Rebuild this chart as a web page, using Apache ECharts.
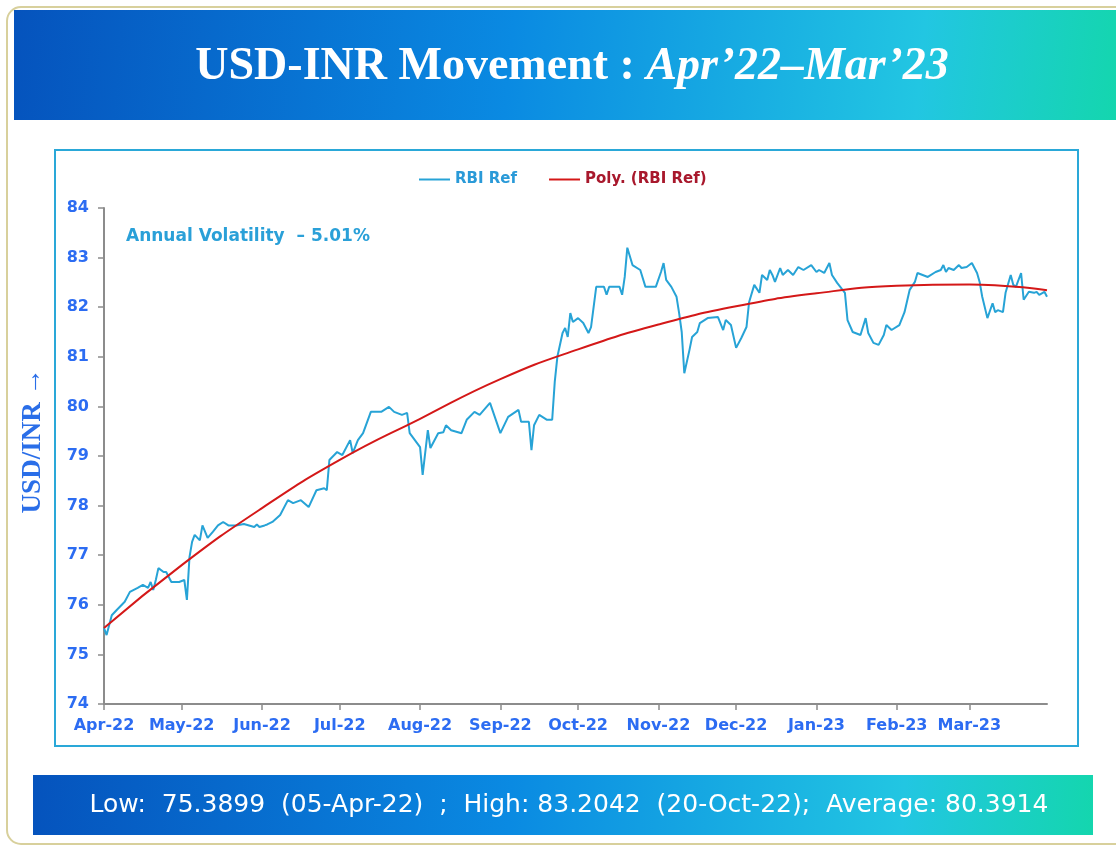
<!DOCTYPE html>
<html><head><meta charset="utf-8">
<script src="https://cdn.jsdelivr.net/npm/echarts@6/dist/echarts.min.js"></script>
<style>html,body{margin:0;padding:0;background:#fff}#c{width:1116px;height:848px}</style>
</head><body><div id="c"></div>
<script>
// ---- data ----
const dates = [
'2022-04-01','2022-04-02','2022-04-04','2022-04-06','2022-04-09','2022-04-11','2022-04-14','2022-04-16','2022-04-18','2022-04-19',
'2022-04-20','2022-04-21','2022-04-22','2022-04-24','2022-04-25','2022-04-27','2022-04-30','2022-05-02','2022-05-03','2022-05-04',
'2022-05-05','2022-05-06','2022-05-08','2022-05-09','2022-05-11','2022-05-13','2022-05-15','2022-05-17','2022-05-19','2022-05-22',
'2022-05-25','2022-05-27','2022-05-29','2022-05-30','2022-05-31','2022-06-02','2022-06-03','2022-06-05','2022-06-08','2022-06-11',
'2022-06-13','2022-06-16','2022-06-19','2022-06-22','2022-06-25','2022-06-26','2022-06-27','2022-06-30','2022-07-02','2022-07-05',
'2022-07-06','2022-07-08','2022-07-10','2022-07-13','2022-07-17','2022-07-20','2022-07-22','2022-07-25','2022-07-27','2022-07-28',
'2022-08-01','2022-08-02','2022-08-04','2022-08-05','2022-08-08','2022-08-10','2022-08-11','2022-08-13','2022-08-17','2022-08-19',
'2022-08-22','2022-08-24','2022-08-28','2022-09-01','2022-09-04','2022-09-08','2022-09-09','2022-09-12','2022-09-13','2022-09-14',
'2022-09-16','2022-09-19','2022-09-21','2022-09-22','2022-09-23','2022-09-25','2022-09-26','2022-09-27','2022-09-28','2022-09-29',
'2022-10-01','2022-10-03','2022-10-05','2022-10-06','2022-10-08','2022-10-11','2022-10-12','2022-10-13','2022-10-17','2022-10-18',
'2022-10-19','2022-10-20','2022-10-22','2022-10-25','2022-10-27','2022-10-31','2022-11-02','2022-11-03','2022-11-04','2022-11-06',
'2022-11-08','2022-11-09','2022-11-10','2022-11-11','2022-11-13','2022-11-14','2022-11-16','2022-11-17','2022-11-20','2022-11-24',
'2022-11-26','2022-11-27','2022-11-29','2022-12-01','2022-12-03','2022-12-05','2022-12-06','2022-12-08','2022-12-10','2022-12-11',
'2022-12-13','2022-12-14','2022-12-15','2022-12-16','2022-12-18','2022-12-19','2022-12-21','2022-12-23','2022-12-25','2022-12-27',
'2022-12-30','2023-01-01','2023-01-02','2023-01-04','2023-01-06','2023-01-07','2023-01-09','2023-01-12','2023-01-13','2023-01-15',
'2023-01-18','2023-01-20','2023-01-21','2023-01-23','2023-01-25','2023-01-27','2023-01-28','2023-01-30','2023-02-02','2023-02-04',
'2023-02-06','2023-02-08','2023-02-09','2023-02-11','2023-02-13','2023-02-16','2023-02-18','2023-02-19','2023-02-20','2023-02-21',
'2023-02-23','2023-02-25','2023-02-26','2023-02-28','2023-03-02','2023-03-04','2023-03-05','2023-03-06','2023-03-08','2023-03-10',
'2023-03-11','2023-03-12','2023-03-14','2023-03-15','2023-03-17','2023-03-18','2023-03-19','2023-03-21','2023-03-22','2023-03-24',
'2023-03-26','2023-03-27','2023-03-28','2023-03-30','2023-03-31'
];
const rbiRef = [
75.53,75.39,75.79,75.90,76.06,76.26,76.34,76.40,76.34,76.46,
76.30,76.50,76.74,76.66,76.66,76.46,76.46,76.50,76.10,76.96,
77.27,77.41,77.30,77.60,77.35,77.47,77.60,77.67,77.60,77.60,
77.63,77.60,77.57,77.62,77.57,77.60,77.62,77.67,77.81,78.11,
78.05,78.11,77.97,78.31,78.35,78.31,78.92,79.08,79.02,79.32,
79.06,79.32,79.46,79.89,79.89,79.99,79.89,79.83,79.87,79.46,
79.18,78.62,79.52,79.16,79.46,79.48,79.62,79.52,79.46,79.73,
79.89,79.83,80.07,79.46,79.79,79.93,79.69,79.69,79.12,79.62,
79.83,79.73,79.73,80.50,81.00,81.48,81.58,81.40,81.88,81.70,
81.78,81.68,81.48,81.60,82.41,82.41,82.25,82.41,82.41,82.25,
82.61,83.20,82.85,82.75,82.41,82.41,82.71,82.89,82.55,82.41,
82.21,81.88,81.50,80.67,81.14,81.40,81.50,81.68,81.78,81.80,
81.54,81.74,81.64,81.18,81.38,81.60,82.10,82.45,82.29,82.65,
82.55,82.75,82.65,82.51,82.79,82.65,82.75,82.65,82.81,82.75,
82.85,82.71,82.75,82.69,82.89,82.65,82.49,82.29,81.74,81.50,
81.44,81.78,81.48,81.28,81.24,81.44,81.64,81.54,81.64,81.90,
82.35,82.51,82.69,82.65,82.61,82.71,82.75,82.85,82.71,82.79,
82.75,82.85,82.79,82.81,82.89,82.69,82.51,82.21,81.78,82.08,
81.90,81.94,81.90,82.29,82.65,82.45,82.41,82.69,82.15,82.31,
82.29,82.31,82.25,82.31,82.21
];
const trendDates = ['2022-04-01','2022-05-01','2022-06-01','2022-07-01','2022-08-01','2022-09-01','2022-10-01','2022-11-01','2022-12-01','2023-01-01','2023-02-01','2023-03-01','2023-03-31'];
const trendValues = [75.53,76.80,77.95,78.92,79.75,80.55,81.15,81.65,82.02,82.28,82.43,82.46,82.34];
const monthTicks = ['2022-04-01','2022-05-01','2022-06-01','2022-07-01','2022-08-01','2022-09-01','2022-10-01','2022-11-01','2022-12-01','2023-01-01','2023-02-01','2023-03-01'];
const monthLabels = ['Apr-22','May-22','Jun-22','Jul-22','Aug-22','Sep-22','Oct-22','Nov-22','Dec-22','Jan-23','Feb-23','Mar-23'];
const xStart = '2022-04-01', xEnd = '2023-03-31';
const yMin = 74, yMax = 84, yStep = 1;
const seriesNames = ['RBI Ref', 'Poly. (RBI Ref)'];
const titleMain = 'USD-INR Movement : ';
const titleItalic = 'Apr\u201922\u2013Mar\u201923';
const volatilityText = 'Annual Volatility  \u2013 5.01%';
const yAxisTitle = 'USD/INR \u2192';
const footerText = 'Low:  75.3899  (05-Apr-22)  ;  High: 83.2042  (20-Oct-22);  Average: 80.3914';

// ---- chart ----
const toTime = s => +echarts.time.parse(s);
const chart = echarts.init(document.getElementById('c'), null, {renderer: 'canvas'});
const tickTimes = monthTicks.map(toTime);
const bannerGrad = () => new echarts.graphic.LinearGradient(0, 0, 1, 1, [
  {offset: 0, color: '#0553bd'}, {offset: 0.45, color: '#0a8ae2'},
  {offset: 0.82, color: '#22c6e2'}, {offset: 1, color: '#14d6ae'}]);
const labelFont = {fontFamily: 'DejaVu Sans', fontWeight: 'bold', fontSize: 16, color: '#2c6cf2'};

chart.setOption({
  animation: false,
  backgroundColor: '#ffffff',
  graphic: [
    {type: 'rect', z: -5, shape: {x: 7, y: 7, width: 1130, height: 837, r: 14},
     style: {fill: '#ffffff', stroke: '#d8d09c', lineWidth: 2}},
    {type: 'rect', z: -4, shape: {x: 14, y: 10, width: 1102, height: 110},
     style: {fill: bannerGrad()}},
    {type: 'text', z: 10, x: 572, y: 67,
     style: {text: '{a|' + titleMain + '}{b|' + titleItalic + '}', align: 'center', verticalAlign: 'middle',
       rich: {a: {fontFamily: 'Liberation Serif', fontSize: 46, fontWeight: 'bold', fill: '#ffffff', color: '#ffffff'},
              b: {fontFamily: 'Liberation Serif', fontSize: 46, fontStyle: 'italic', fontWeight: 'bold', fill: '#ffffff', color: '#ffffff'}}}},
    {type: 'rect', z: -4, shape: {x: 55, y: 150, width: 1023, height: 596},
     style: {fill: '#ffffff', stroke: '#2aa8d8', lineWidth: 2}},
    {type: 'rect', z: -4, shape: {x: 33, y: 775, width: 1060, height: 60},
     style: {fill: bannerGrad()}},
    {type: 'text', z: 10, x: 569, y: 805,
     style: {text: footerText, align: 'center', verticalAlign: 'middle', fill: '#ffffff',
       font: '25px "DejaVu Sans", sans-serif'}},
    {type: 'text', z: 10, x: 126, y: 237,
     style: {text: volatilityText, align: 'left', verticalAlign: 'middle', fill: '#2aa0d8',
       font: 'bold 17px "DejaVu Sans", sans-serif'}},
    {type: 'text', z: 10, x: 33, y: 441, rotation: Math.PI / 2,
     style: {text: yAxisTitle, align: 'center', verticalAlign: 'middle', fill: '#2a6ee8',
       font: 'bold 27px "Liberation Serif", serif'}}
  ],
  legend: {
    left: 414, top: 167, itemGap: 32, itemWidth: 31, itemHeight: 2, icon: 'rect',
    textStyle: {fontFamily: 'DejaVu Sans', fontWeight: 'bold', fontSize: 15},
    data: [{name: seriesNames[0], textStyle: {color: '#2a9ad8'}},
           {name: seriesNames[1], textStyle: {color: '#a8182c'}}]
  },
  grid: {left: 104, right: 69, top: 208, bottom: 144, containLabel: false},
  xAxis: {
    type: 'value', min: toTime(xStart), max: toTime(xEnd),
    axisLine: {onZero: false, lineStyle: {color: '#8c8c8c', width: 2}},
    axisTick: {show: true, length: 6, customValues: tickTimes, lineStyle: {color: '#8c8c8c', width: 1.5}},
    splitLine: {show: false},
    axisLabel: Object.assign({}, labelFont, {margin: 14, customValues: tickTimes, hideOverlap: false,
      showMinLabel: true, showMaxLabel: true,
      formatter: v => monthLabels[tickTimes.indexOf(v)] || ''})
  },
  yAxis: {
    type: 'value', min: yMin, max: yMax, interval: yStep,
    axisLine: {show: true, lineStyle: {color: '#8c8c8c', width: 2}},
    axisTick: {show: true, length: 6, lineStyle: {color: '#8c8c8c', width: 1.5}},
    splitLine: {show: false},
    axisLabel: Object.assign({}, labelFont, {margin: 15})
  },
  series: [
    {name: seriesNames[0], type: 'line', symbol: 'none', showSymbol: false, z: 3,
     lineStyle: {color: '#27a3d6', width: 2}, itemStyle: {color: '#27a3d6'},
     data: dates.map((d, i) => [toTime(d), rbiRef[i]])},
    {name: seriesNames[1], type: 'line', symbol: 'none', showSymbol: false, smooth: 0.5, z: 4,
     lineStyle: {color: '#d41818', width: 2}, itemStyle: {color: '#d41818'},
     data: trendDates.map((d, i) => [toTime(d), trendValues[i]])}
  ]
});
</script></body></html>
